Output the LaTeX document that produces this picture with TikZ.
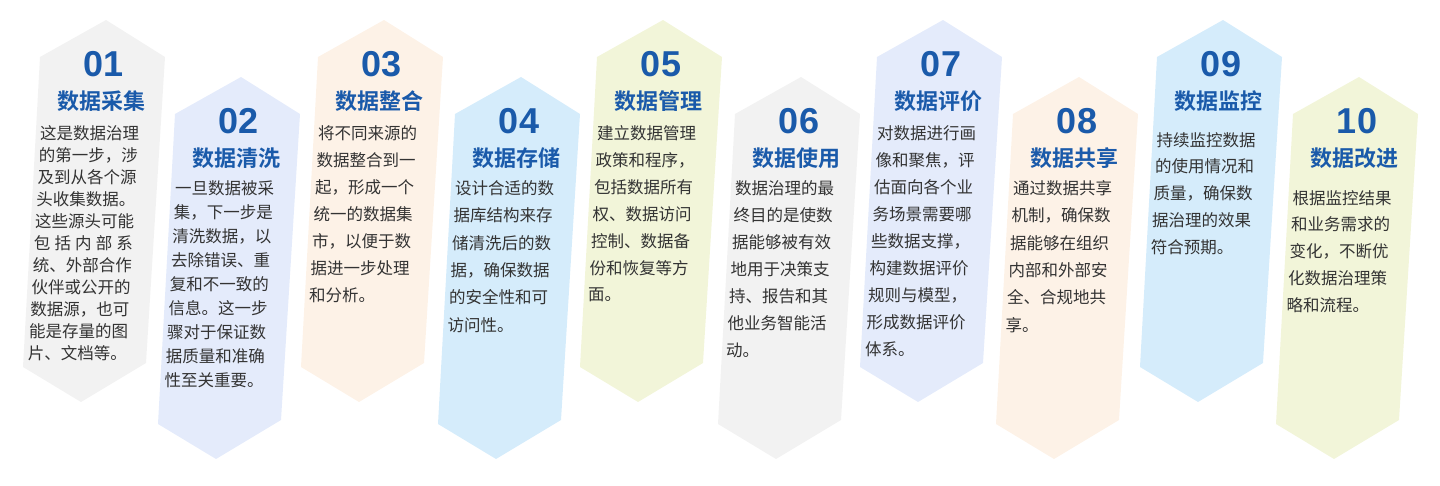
\documentclass[tikz,border=0pt]{standalone}
\usepackage{fontspec}
\setmainfont{Liberation Sans}
\newfontfamily\cjk{Noto Sans CJK SC}
\newfontfamily\cjkb{Noto Sans CJK SC Bold}
\definecolor{tblue}{HTML}{1A5AAA}
\definecolor{tgray}{HTML}{333333}
\definecolor{c1}{HTML}{F2F2F2}
\definecolor{c2}{HTML}{E4EBFB}
\definecolor{c3}{HTML}{FDF2E7}
\definecolor{c4}{HTML}{D5ECFB}
\definecolor{c5}{HTML}{F2F5D9}
\tikzset{
 numst/.style={inner sep=0pt,text=tblue,font=\fontsize{36}{36}\selectfont\bfseries},
 titst/.style={inner sep=0pt,text=tblue,font=\cjkb\fontsize{22}{22}\selectfont},
 bodyst/.style={inner sep=0pt,text=tgray,font=\cjk\fontsize{16.5}{16.5}\selectfont}
}
\newcommand\mycard[8]{%
 \begin{scope}[shift={(#1,#2)}]
 \fill[#3] (66,20)--(125,57)--(106,363)--(41,402)--(-17,367)--(0,57)--cycle;
 \node[numst] (n#4) at (64,64) {#4};
 \node[titst] (t#4) at (61,101) {#5};
 \foreach \l [count=\k from 0] in {#8} {
   \pgfmathsetmacro\yy{#6+\k*#7}
   \pgfmathsetmacro\xx{4-0.055*(\yy-57)}
   \node[bodyst,anchor=west] (b#4-\k) at (\xx,\yy) {\makebox[6em][s]{\l}};
 }
 \end{scope}}
\begin{document}
\begin{tikzpicture}[x=1pt,y=-1pt]
\useasboundingbox (0,0) rectangle (1440,486);
\mycard{40}{0}{c1}{01}{数据采集}{133}{22}{这是数据治理,的第一步，涉,及到从各个源,头收集数据。,这些源头可能,包\hfill{}括\hfill{}内\hfill{}部\hfill{}系,统、外部合作,伙伴或公开的,数据源，也可,能是存量的图,片、文档等。}
\mycard{175}{57}{c2}{02}{数据清洗}{131}{24}{一旦数据被采,集，下一步是,清洗数据，以,去除错误、重,复和不一致的,信息。这一步,骤对于保证数,据质量和准确,性至关重要。}
\mycard{318}{0}{c3}{03}{数据整合}{133}{27}{将不同来源的,数据整合到一,起，形成一个,统一的数据集,市，以便于数,据进一步处理,和分析。}
\mycard{455}{57}{c4}{04}{数据存储}{131}{27.4}{设计合适的数,据库结构来存,储清洗后的数,据，确保数据,的安全性和可,访问性。}
\mycard{597}{0}{c5}{05}{数据管理}{133}{27}{建立数据管理,政策和程序，,包括数据所有,权、数据访问,控制、数据备,份和恢复等方,面。}
\mycard{735}{57}{c1}{06}{数据使用}{131}{27}{数据治理的最,终目的是使数,据能够被有效,地用于决策支,持、报告和其,他业务智能活,动。}
\mycard{877}{0}{c2}{07}{数据评价}{133}{27}{对数据进行画,像和聚焦，评,估面向各个业,务场景需要哪,些数据支撑，,构建数据评价,规则与模型，,形成数据评价,体系。}
\mycard{1013}{57}{c3}{08}{数据共享}{131}{27.4}{通过数据共享,机制，确保数,据能够在组织,内部和外部安,全、合规地共,享。}
\mycard{1157}{0}{c4}{09}{数据监控}{140}{26.7}{持续监控数据,的使用情况和,质量，确保数,据治理的效果,符合预期。}
\mycard{1293}{57}{c5}{10}{数据改进}{141}{26.7}{根据监控结果,和业务需求的,变化，不断优,化数据治理策,略和流程。}
\end{tikzpicture}
\end{document}
